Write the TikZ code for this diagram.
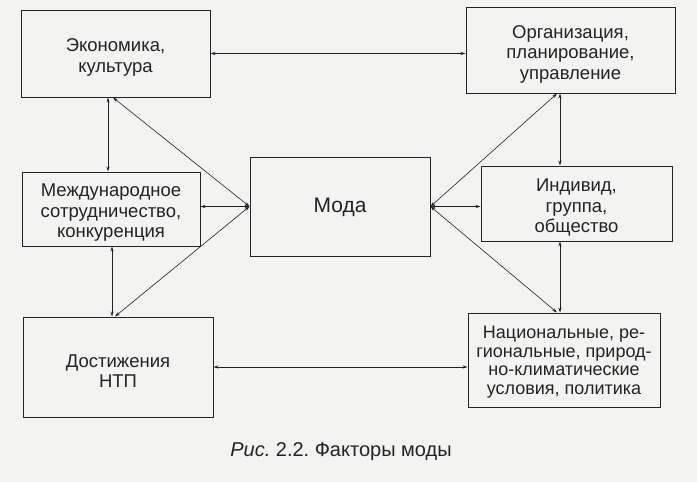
\documentclass[tikz,border=0pt]{standalone}
\usepackage{fontspec}
\setmainfont{Liberation Sans}
\usetikzlibrary{arrows.meta}
\definecolor{paper}{RGB}{243,243,241}
\definecolor{ink}{RGB}{35,35,35}
\frenchspacing
\tikzset{
  box/.style={draw=ink, line width=1pt, fill=none, inner sep=0pt},
  txt/.style={align=center, inner sep=0pt, text=ink, yshift=-4pt,
    font=\fontsize{18.5}{20.5}\selectfont},
  conn/.style={draw=ink, line width=0.6pt,
    {Stealth[length=5pt,width=3.2pt]}-{Stealth[length=5pt,width=3.2pt]}},
}
\begin{document}
\begin{tikzpicture}[x=1pt,y=-1pt]
\useasboundingbox[fill=paper] (0,0) rectangle (697,482);
\node[box, minimum width=189pt, minimum height=87pt] (eco) at (115.5,53.5) {};
\node[box, minimum width=178pt, minimum height=74pt] (mezh) at (111,209) {};
\node[box, minimum width=190pt, minimum height=100pt] (ntp) at (118,367) {};
\node[box, minimum width=180pt, minimum height=99pt] (moda) at (340,206.5) {};
\node[box, minimum width=209pt, minimum height=86pt] (org) at (570.5,50) {};
\node[box, minimum width=191pt, minimum height=75pt] (ind) at (576.5,203.5) {};
\node[box, minimum width=192pt, minimum height=94pt] (nac) at (564,360) {};

\node[txt] (eco-t) at (eco) {Экономика,\\культура};
\node[txt] (mezh-t) at (mezh) {Международное\\сотрудничество,\\конкуренция};
\node[txt] (ntp-t) at (ntp) {Достижения\\НТП};
\node[txt, yshift=3pt, font=\fontsize{21}{24}\selectfont] (moda-t) at (moda) {Мода};
\node[txt] (org-t) at (org) {Организация,\\планирование,\\управление};
\node[txt] (ind-t) at (ind) {Индивид,\\группа,\\общество};
\node[txt, yshift=2pt, font=\fontsize{18}{18.5}\selectfont] (nac-t) at (nac) {Национальные, ре-\\гиональные, природ-\\но-климатические\\условия, политика};
\node[anchor=base, text=ink, font=\fontsize{20}{22}\selectfont] (cap) at (341,456) {\textit{Рис.} 2.2. Факторы моды};

\draw[conn] (eco.east) -- (eco.east -| org.west);
\draw[conn] ([xshift=-7.5pt]eco.south) -- ([xshift=-7.5pt]eco.south |- mezh.north);
\draw[conn] ([xshift=1pt]mezh.south) -- ([xshift=1pt]mezh.south |- ntp.north);
\draw[conn] ([xshift=-2.5pt]eco.south) -- (moda.west);
\draw[conn] (mezh.east |- moda.west) -- (moda.west);
\draw[conn] (moda.west) -- ([xshift=-3pt]ntp.north);
\draw[conn] (moda.east) -- ([xshift=-13.5pt]org.south);
\draw[conn] (moda.east) -- (moda.east -| ind.west);
\draw[conn] (moda.east) -- ([xshift=-7pt]nac.north);
\draw[conn] ([xshift=-10.5pt]org.south) -- ([xshift=-10.5pt]org.south |- ind.north);
\draw[conn] ([xshift=-16.5pt]ind.south) -- ([xshift=-16.5pt]ind.south |- nac.north);
\draw[conn] (ntp.east) -- (ntp.east -| nac.west);
\end{tikzpicture}
\end{document}
